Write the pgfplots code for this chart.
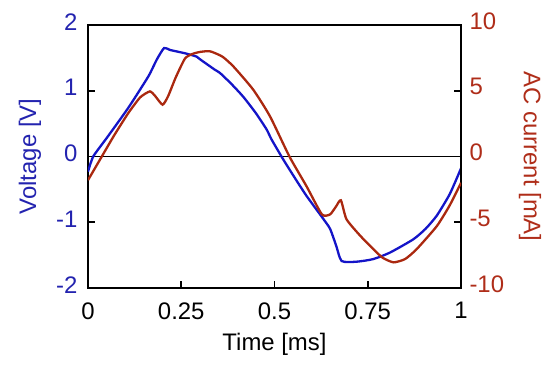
\documentclass[border=0pt]{standalone}
\usepackage{fontspec}
\setmainfont{Liberation Sans}
\usepackage{pgfplots}
\pgfplotsset{compat=1.18}
\usetikzlibrary{calc}
\definecolor{vblue}{RGB}{20,20,200}
\definecolor{vlab}{RGB}{35,35,175}
\definecolor{ired}{RGB}{170,40,15}
\definecolor{ilab}{RGB}{175,45,25}
\begin{document}
\begin{tikzpicture}
\pgfplotsset{
  every axis/.append style={
    scale only axis, width=373bp, height=263bp,
    /pgf/number format/assume math mode=true,
    tick label style={font=\fontsize{24}{27}\selectfont},
    axis line style={line width=2bp},
    major tick length=7bp,
    tick style={line width=1.6bp, black},
    tick align=inside,
  }
}
\begin{axis}[
  name=ax,
  xmin=0, xmax=1, ymin=-2, ymax=2,
  xtick={0,0.25,0.5,0.75,1},
  xticklabels={0,0.25,0.5,0.75,1},
  ytick={-2,-1,0,1,2},
  yticklabels={-2,-1,0,1,2},
  xtick pos=bottom, ytick pos=left,
  yticklabel style={text=vlab, xshift=-7bp, yshift=3bp},
  xticklabel style={yshift=-11bp},
]
\draw[black, line width=1.4bp] (axis cs:0,0) -- (axis cs:1,0);
\addplot[vblue, line width=2.3bp, no markers, smooth, tension=0.35] coordinates {
(0,-0.23) (0.014,0) (0.05,0.28) (0.108,0.74) (0.162,1.22) (0.184,1.47)
(0.204,1.65) (0.22,1.62) (0.26,1.57) (0.291,1.52) (0.3,1.48) (0.34,1.32)
(0.354,1.27) (0.385,1.1) (0.416,0.91) (0.45,0.66) (0.479,0.41) (0.492,0.26)
(0.524,-0.05) (0.555,-0.33) (0.586,-0.6) (0.631,-0.95) (0.649,-1.1) (0.665,-1.35)
(0.68,-1.59) (0.72,-1.60) (0.765,-1.56) (0.81,-1.46) (0.872,-1.26) (0.905,-1.1)
(0.935,-0.9) (0.97,-0.57) (1.0,-0.18)
};
\end{axis}
\begin{axis}[
  xmin=0, xmax=1, ymin=-10, ymax=10,
  axis y line*=right, axis x line=none,
  ytick={-10,-5,0,5,10},
  yticklabels={-10,-5,0,5,10},
  yticklabel style={text=ilab, xshift=5bp, yshift=4bp},
]
\addplot[ired, line width=2.3bp, no markers, smooth, tension=0.35] coordinates {
(0,-1.8) (0.037,0) (0.07,1.6) (0.108,3.3) (0.14,4.5) (0.166,4.95) (0.18,4.6)
(0.2,3.94) (0.215,4.6) (0.235,6.0) (0.26,7.45) (0.28,7.8) (0.3,7.95)
(0.327,8.0) (0.36,7.6) (0.39,6.84) (0.443,5.08) (0.488,3.05) (0.54,0)
(0.586,-2.27) (0.627,-4.4) (0.649,-4.4) (0.665,-3.8) (0.678,-3.33)
(0.693,-4.77) (0.729,-6.0) (0.765,-7.05) (0.79,-7.7) (0.819,-8.05)
(0.85,-7.8) (0.881,-7.05) (0.935,-5.3) (0.97,-3.7) (1.0,-2.0)
};
\end{axis}
\node[rotate=90, text=vlab, font=\fontsize{24}{27}\selectfont] at ($(ax.west)+(-58bp,0)$) {Voltage [V]};
\node[rotate=-90, text=ilab, font=\fontsize{24}{27}\selectfont] at ($(ax.east)+(69bp,0)$) {AC current [mA]};
\node[font=\fontsize{24}{27}\selectfont] at ($(ax.south)+(0,-56bp)$) {Time [ms]};
\pgfresetboundingbox
\path ($(ax.south west)+(-88bp,-77bp)$) rectangle ($(ax.north east)+(89bp,25bp)$);
\end{tikzpicture}
\end{document}
